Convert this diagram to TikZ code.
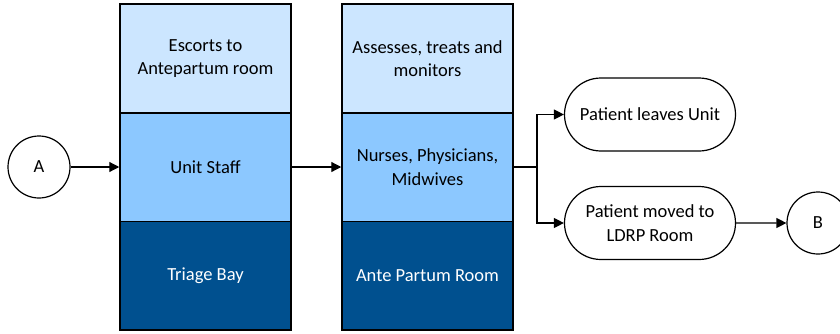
\documentclass[tikz,border=0pt]{standalone}
\usepackage{fontspec}
\setmainfont{Carlito}
\usetikzlibrary{arrows.meta,shapes.misc}
\definecolor{bandlight}{HTML}{CCE6FF}
\definecolor{bandmid}{HTML}{8CC8FF}
\definecolor{banddark}{HTML}{00508F}
\begin{document}
\begin{tikzpicture}[x=1pt,y=1pt,
  every node/.style={font=\fontsize{18.5}{23.5}\selectfont, align=center, inner sep=0pt},
  band/.style={draw=black, line width=1.5pt, minimum width=171pt, minimum height=108.5pt},
  lightband/.style={band, fill=bandlight},
  midband/.style={band, fill=bandmid},
  darkband/.style={band, fill=banddark, text=white},
  conn/.style={circle, draw=black, line width=1.2pt, minimum size=62pt},
  term/.style={rounded rectangle, draw=black, line width=1.2pt, minimum width=171pt, minimum height=73pt},
  flow/.style={line width=1.2pt, -{Triangle[length=10pt,width=10pt]}},
  plain/.style={line width=1.2pt}
]
\useasboundingbox (0,0) rectangle (840,333);
% circle A
\node[conn] (A) at (39,166) {A};
% column 1
\node[lightband] (c1t) at (205.5,274.5) {Escorts to\\Antepartum room};
\node[midband] (c1m) at (205.5,166) {Unit Staff};
\node[darkband] (c1b) at (205.5,57.5) {Triage Bay};
% column 2
\node[lightband] (c2t) at (427.5,274.5) {Assesses, treats and\\monitors};
\node[midband] (c2m) at (427.5,166) {Nurses, Physicians,\\Midwives};
\node[darkband] (c2b) at (427.5,57.5) {Ante Partum Room};
% terminals
\node[term] (t1) at (650,218.5) {Patient leaves Unit};
\node[term] (t2) at (650,110) {Patient moved to\\LDRP Room};
\node[conn] (B) at (818,110) {B};
\coordinate (j) at (537,166);
% connectors
\draw[flow] (A) -- (c1m.west);
\draw[flow] (c1m.east) -- (c2m.west);
\draw[plain] (c2m.east) -- (j);
\draw[flow] (j) |- (t1.west);
\draw[flow] (j) |- (t2.west);
\draw[flow] (t2) -- (B);
\end{tikzpicture}
\end{document}
